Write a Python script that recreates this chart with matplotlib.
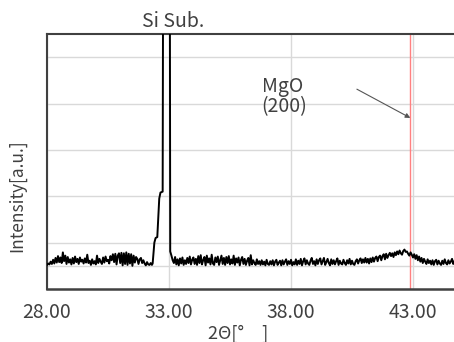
import numpy as np
import matplotlib
matplotlib.use("Agg")
import matplotlib.pyplot as plt

plt.rcParams['font.family'] = ['Noto Sans CJK JP', 'DejaVu Sans']

# scan below the Si peak, 28.00 - 32.30 deg, 0.05 deg step
scan1_start, scan1_step = 28.00, 0.05
scan1 = [
    0.02, 0.05, 0.03, 0.09, 0.04, 0.13, 0.05, 0.17, 0.07, 0.21,
    0.08, 0.18, 0.06, 0.29, 0.10, 0.22, 0.04, 0.19, 0.07, 0.14,
    0.03, 0.17, 0.05, 0.20, 0.08, 0.15, 0.04, 0.18, 0.09, 0.13,
    0.05, 0.16, 0.07, 0.24, 0.06, 0.11, 0.02, 0.14, 0.05, 0.10,
    0.03, 0.22, 0.06, 0.15, 0.09, 0.04, 0.18, 0.07, 0.20, 0.10,
    0.13, 0.05, 0.21, 0.12, 0.25, 0.08, 0.26, 0.03, 0.22, 0.27,
    0.06, 0.28, 0.01, 0.27, 0.04, 0.29, 0.02, 0.26, 0.05, 0.25,
    0.00, 0.22, 0.07, 0.19, 0.15, 0.04, 0.14, 0.17, 0.06, 0.12,
    0.05, 0.01, 0.08, 0.03, 0.02, 0.06, 0.02,
]

# Si substrate peak (top goes off scale)
peak_x = [32.33, 32.40, 32.45, 32.52, 32.60, 32.65, 32.74, 32.78, 32.90, 33.02, 33.05]
peak_y = [0.05, 0.50, 0.60, 0.62, 1.45, 1.58, 1.60, 12.0, 40.0, 12.0, 0.31]

# scan above the Si peak, 33.10 - 44.70 deg, 0.05 deg step
scan2_start, scan2_step = 33.10, 0.05
scan2 = [
    0.22, 0.12, 0.06, 0.19, 0.03, 0.14, 0.01, 0.16, 0.05, 0.18, 0.02, 0.12, 0.04, 0.17, 0.06, 0.20, 0.03, 0.13, 0.18, 0.04,
    0.15, 0.02, 0.21, 0.06, 0.23, 0.03, 0.12, 0.19, 0.01, 0.22, 0.07, 0.16, 0.03, 0.24, 0.05, 0.02, 0.18, 0.08, 0.20, 0.02,
    0.12, 0.22, 0.04, 0.17, 0.02, 0.19, 0.06, 0.21, 0.03, 0.14, 0.05, 0.22, 0.02, 0.16, 0.07, 0.18, 0.01, 0.13, 0.19, 0.04,
    0.15, 0.02, 0.11, 0.17, 0.01, 0.23, 0.03, 0.12, 0.06, 0.02, 0.14, 0.04, 0.10, 0.02, 0.12, 0.03, 0.09, 0.01, 0.13, 0.04,
    0.02, 0.10, 0.03, 0.12, 0.01, 0.09, 0.13, 0.02, 0.07, 0.11, 0.01, 0.12, 0.03, 0.09, 0.14, 0.02, 0.10, 0.04, 0.13, 0.01,
    0.08, 0.03, 0.14, 0.02, 0.11, 0.04, 0.15, 0.01, 0.10, 0.16, 0.03, 0.12, 0.05, 0.02, 0.11, 0.17, 0.04, 0.10, 0.01, 0.14,
    0.04, 0.12, 0.16, 0.03, 0.10, 0.17, 0.02, 0.08, 0.15, 0.06, 0.01, 0.14, 0.04, 0.12, 0.03, 0.10, 0.16, 0.02, 0.11, 0.05,
    0.03, 0.13, 0.06, 0.02, 0.12, 0.05, 0.15, 0.03, 0.11, 0.04, 0.02, 0.10, 0.14, 0.05, 0.12, 0.16, 0.06, 0.14, 0.07, 0.17,
    0.07, 0.15, 0.05, 0.16, 0.08, 0.18, 0.09, 0.17, 0.20, 0.10, 0.19, 0.22, 0.12, 0.21, 0.25, 0.14, 0.26, 0.17, 0.23, 0.28,
    0.21, 0.27, 0.19, 0.29, 0.23, 0.31, 0.25, 0.33, 0.27, 0.24, 0.32, 0.35, 0.30, 0.31, 0.26, 0.22, 0.29, 0.24, 0.18, 0.25,
    0.15, 0.23, 0.12, 0.20, 0.09, 0.17, 0.06, 0.15, 0.09, 0.04, 0.14, 0.06, 0.11, 0.03, 0.12, 0.02, 0.10, 0.13, 0.03, 0.11,
    0.05, 0.02, 0.11, 0.04, 0.14, 0.06, 0.03, 0.12, 0.05, 0.09, 0.15, 0.04, 0.10,
]

mgo_pos = 42.89
xticks = [28, 33, 38, 43]
xtick_labels = ["28.00", "33.00", "38.00", "43.00"]

x1 = scan1_start + scan1_step * np.arange(len(scan1))
x2 = scan2_start + scan2_step * np.arange(len(scan2))
x = np.concatenate([x1, peak_x, x2])
y = np.concatenate([scan1, peak_y, scan2])

W, H = 454, 342
fig = plt.figure(figsize=(W / 100, H / 100), dpi=100)
ax = fig.add_axes([47 / W, (H - 289) / H, (W - 47) / W, (289 - 34) / H])

grid_c = "#d9d9d9"
txt_c = "#404040"
ax.plot(x, y, color="black", lw=1.4, zorder=3)
ax.axvline(mgo_pos, color="#ff8080", lw=1.0, zorder=2)
ax.axhline(0, color=grid_c, lw=1.0, zorder=1)

ax.set_xlim(28, 28 + 407 / 24.4)
ax.set_ylim(-0.5, 5.0)
ax.set_xticks(xticks)
ax.set_xticklabels(xtick_labels)
ax.set_yticks([0.5, 1.5, 2.5, 3.5, 4.5])
ax.set_yticklabels([])
ax.tick_params(length=0, labelsize=14, colors=txt_c, pad=9)
ax.grid(True, color=grid_c, lw=1.0, zorder=0)

for s in ["left", "bottom", "top"]:
    ax.spines[s].set_color(txt_c)
ax.spines["left"].set_linewidth(1.5)
ax.spines["bottom"].set_linewidth(1.8)
ax.spines["top"].set_linewidth(1.5)
ax.spines["right"].set_visible(False)

ax.set_ylabel("Intensity[a.u.]", fontsize=12.5, color=txt_c)
ax.yaxis.set_label_coords(-30 / (W - 47), (289 - 196) / (289 - 34))
ax.set_xlabel("2Θ[°　]", fontsize=13, color=txt_c)
ax.xaxis.set_label_coords((238 - 47) / (W - 47), -(334 - 289) / (289 - 34))
ax.xaxis.label.set_va("center")
ax.yaxis.label.set_va("center")

ax.text(33.17, 5.05, "Si Sub.", ha="center", va="bottom", fontsize=14, color=txt_c)
ax.text(36.8, 3.65, "MgO\n(200)", ha="left", va="center", fontsize=14,
        color=txt_c, linespacing=0.95)
ax.annotate("", xy=(mgo_pos, 3.19), xytext=(40.7, 3.81),
            arrowprops=dict(arrowstyle="-|>", color="#555555", lw=0.8,
                            mutation_scale=7, shrinkA=0, shrinkB=0))

fig.savefig("out.png", dpi=100)
